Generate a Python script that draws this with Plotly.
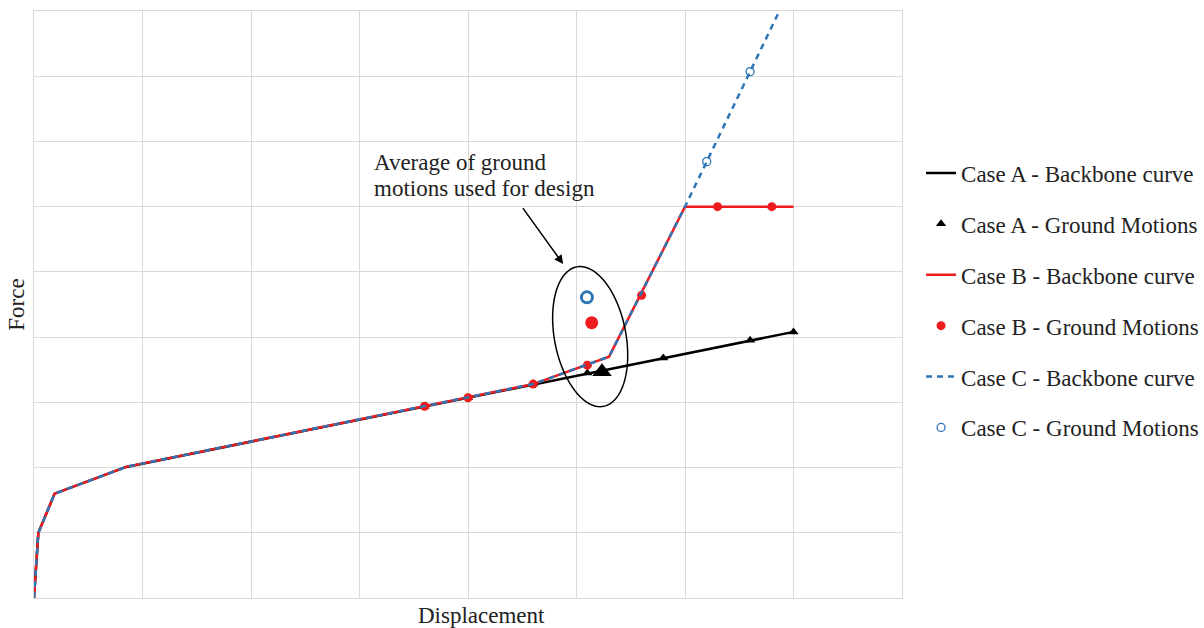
import numpy as np
import plotly.graph_objects as go

# ---------------- data (grid units) ----------------
a_bb_x = [0, 0.04, 0.19, 0.85, 7.0]
a_bb_y = [0, 1.0, 1.6, 2.01, 4.08]

b_bb_x = [0, 0.04, 0.19, 0.85, 4.6, 5.3, 6.0, 7.0]
b_bb_y = [0, 1.0, 1.6, 2.01, 3.28, 3.70, 6.0, 6.0]

c_bb_x = [0, 0.04, 0.19, 0.85, 4.6, 5.3, 6.0, 7.0]
c_bb_y = [0, 1.0, 1.6, 2.01, 3.28, 3.70, 6.0, 9.45]

a_gm_x = [3.6, 4.0, 4.6, 5.1, 5.8, 6.6, 7.0]
a_gm_y = [2.94, 3.07, 3.28, 3.45, 3.68, 3.95, 4.08]

b_gm_x = [3.6, 4.0, 4.6, 5.1, 5.6, 6.3, 6.8]
b_gm_y = [2.94, 3.07, 3.28, 3.57, 4.64, 6.0, 6.0]

c_gm_x = [6.2, 6.6]
c_gm_y = [6.69, 8.07]

avg_a = (5.235, 3.47)
avg_b = (5.14, 4.22)
avg_c = (5.096, 4.61)

legend_names = ["Case A - Backbone curve", "Case A - Ground Motions",
                "Case B - Backbone curve", "Case B - Ground Motions",
                "Case C - Backbone curve", "Case C - Ground Motions"]
note_lines = ["Average of ground", "motions used for design"]
x_title = "Displacement"
y_title = "Force"

# ---------------- style ----------------
BLACK = "#000000"
RED = "#ee1c1c"
BLUE = "#2e75b6"
GRID = "#d9d9d9"
TXT = "#222222"
FONT = "Liberation Serif, Times New Roman, serif"
FS = 23

W, H = 1204, 628
ML, MR, MT, MB = 34, 302, 11, 30
XR, YR = (0, 8), (0, 9)
px_x = (W - ML - MR) / (XR[1] - XR[0])
px_y = (H - MT - MB) / (YR[1] - YR[0])

fig = go.Figure()

fig.add_trace(go.Scatter(x=a_bb_x, y=a_bb_y, mode="lines", name=legend_names[0],
                         line=dict(color=BLACK, width=2.5), legendgroup="g1"))
fig.add_trace(go.Scatter(x=a_gm_x, y=a_gm_y, mode="markers", name=legend_names[1],
                         marker=dict(symbol="triangle-up", size=9, color=BLACK), legendgroup="g2"))
fig.add_trace(go.Scatter(x=[avg_a[0]], y=[avg_a[1]], mode="markers", showlegend=False,
                         marker=dict(symbol="triangle-up", size=17, color=BLACK), legendgroup="g2"))
fig.add_trace(go.Scatter(x=b_bb_x, y=b_bb_y, mode="lines", name=legend_names[2],
                         line=dict(color=RED, width=2.5), legendgroup="g3"))
fig.add_trace(go.Scatter(x=b_gm_x, y=b_gm_y, mode="markers", name=legend_names[3],
                         marker=dict(symbol="circle", size=9, color=RED), legendgroup="g4"))
fig.add_trace(go.Scatter(x=[avg_b[0]], y=[avg_b[1]], mode="markers", showlegend=False,
                         marker=dict(symbol="circle", size=13, color=RED), legendgroup="g4"))
fig.add_trace(go.Scatter(x=c_bb_x, y=c_bb_y, mode="lines", name=legend_names[4],
                         line=dict(color=BLUE, width=2.5, dash="6px,5px"), legendgroup="g5"))
fig.add_trace(go.Scatter(x=c_gm_x, y=c_gm_y, mode="markers", name=legend_names[5],
                         marker=dict(symbol="circle-open", size=8, color=BLUE,
                                     line=dict(width=1.3, color=BLUE)), legendgroup="g6"))
fig.add_trace(go.Scatter(x=[avg_c[0]], y=[avg_c[1]], mode="markers", showlegend=False,
                         marker=dict(symbol="circle-open", size=11, color=BLUE,
                                     line=dict(width=3, color=BLUE)), legendgroup="g6"))

# ellipse around the averages (defined in pixel units, converted to data units)
cx, cy = 5.126, 4.008
a_px, b_px, theta = 71, 35.7, np.radians(10.9)
t = np.linspace(0, 2 * np.pi, 121)
dx = a_px * np.cos(t) * np.sin(theta) + b_px * np.sin(t) * np.cos(theta)
dy = a_px * np.cos(t) * np.cos(theta) - b_px * np.sin(t) * np.sin(theta)
ex = cx + dx / px_x
ey = cy - dy / px_y
path = "M " + " L ".join(f"{x:.4f},{y:.4f}" for x, y in zip(ex, ey)) + " Z"
fig.add_shape(type="path", path=path, xref="x", yref="y",
              line=dict(color=BLACK, width=1.5))

fig.add_annotation(x=4.877, y=5.12, ax=4.496, ay=6.0, axref="x", ayref="y",
                   xref="x", yref="y", text="", showarrow=True,
                   arrowhead=2, arrowsize=1.2, arrowwidth=1.5, arrowcolor=BLACK)
for i, line in enumerate(note_lines):
    fig.add_annotation(x=3.113, y=6.68 - i * 0.395, xref="x", yref="y", text=line,
                       showarrow=False, xanchor="left", yanchor="middle", align="left",
                       font=dict(family=FONT, size=FS, color=TXT))

# x-axis title (placed slightly right of centre, as in the original)
fig.add_annotation(x=0.516, y=-0.029, xref="paper", yref="paper", text=x_title,
                   showarrow=False, xanchor="center", yanchor="middle",
                   font=dict(family=FONT, size=FS, color=TXT))

fig.update_layout(
    width=W, height=H,
    margin=dict(l=ML, r=MR, t=MT, b=MB, autoexpand=False),
    paper_bgcolor="white", plot_bgcolor="white",
    font=dict(family=FONT, size=FS, color=TXT),
    showlegend=True,
    legend=dict(xref="container", yref="container", x=0.765, xanchor="left",
                y=0.5215, yanchor="middle",
                tracegroupgap=18, font=dict(family=FONT, size=FS, color=TXT),
                bgcolor="rgba(0,0,0,0)"),
    xaxis=dict(range=list(XR), dtick=1, showgrid=True, gridcolor=GRID, gridwidth=1,
               showticklabels=False, ticks="", zeroline=False, automargin=False,
               showline=True, linecolor=GRID, linewidth=1, mirror=True),
    yaxis=dict(range=list(YR), dtick=1, showgrid=True, gridcolor=GRID, gridwidth=1,
               showticklabels=False, ticks="", zeroline=False, automargin=False,
               showline=True, linecolor=GRID, linewidth=1, mirror=True,
               title=dict(text=y_title, standoff=1,
                          font=dict(family=FONT, size=FS, color=TXT))),
)

fig.write_html("out.html", config={"displayModeBar": False},
               post_script="document.body.style.margin='0px';")
